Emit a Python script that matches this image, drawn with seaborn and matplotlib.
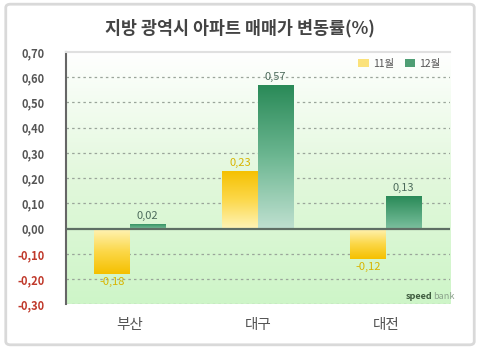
import numpy as np
import pandas as pd
import matplotlib
matplotlib.use("Agg")
import matplotlib.pyplot as plt
import seaborn as sns
from matplotlib.colors import LinearSegmentedColormap
from matplotlib.patches import FancyBboxPatch, Patch

# data
cities = ["부산", "대구", "대전"]
months = ["11월", "12월"]
nov = [-0.18, 0.23, -0.12]
dec = [0.02, 0.57, 0.13]
yticks = [-0.30, -0.20, -0.10, 0.00, 0.10, 0.20, 0.30, 0.40, 0.50, 0.60, 0.70]

df = pd.DataFrame({
    "city": cities * 2,
    "month": [months[0]] * 3 + [months[1]] * 3,
    "value": nov + dec,
})

sns.set_style("white")
plt.rcParams["font.family"] = ["Noto Sans CJK KR", "DejaVu Sans"]

fig = plt.figure(figsize=(4.8, 3.49), dpi=100)
ax = fig.add_axes([0.137, 0.128, 0.80, 0.723])

# outer light frame
fig.patches.append(FancyBboxPatch((0.012, 0.012), 0.976, 0.976, boxstyle="round,pad=0,rounding_size=0.01",
                                  transform=fig.transFigure, fc="white", ec="#d9d9d9", lw=2, zorder=-5))

yel = "#f7c81e"
grn = "#2f8f5e"
sns.barplot(data=df, x="city", y="value", hue="month", palette=[yel, grn],
            width=0.56, gap=0, ax=ax, zorder=3, legend=False)

ax.set_ylim(-0.30, 0.70)
ax.set_xlim(-0.5, 2.5)

# background gradient: white top -> light green bottom
bg = LinearSegmentedColormap.from_list("bg", ["#cef5c8", "#e2f8dc", "#ffffff"])
grad = np.linspace(0, 1, 256).reshape(-1, 1)
ax.imshow(grad, cmap=bg, aspect="auto", extent=[0, 1, 0, 1], transform=ax.transAxes,
          origin="lower", zorder=0)

# gradients on bars
ycm = LinearSegmentedColormap.from_list("y", ["#fff4b8", "#fcd84a", "#f5c000"])
gcm = LinearSegmentedColormap.from_list("g", ["#bfe0d0", "#6db792", "#2a8a58"])
patches = list(ax.patches)
for i, p in enumerate(patches):
    x0, y0 = p.get_x(), p.get_y()
    w, h = p.get_width(), p.get_height()
    cm = ycm if i < 3 else gcm
    lo, hi = min(y0, y0 + h), max(y0, y0 + h)
    g = np.linspace(0, 1, 128).reshape(-1, 1)
    if h < 0:
        g = g[::-1]
    if i >= 3:
        g = np.linspace(0, 1, 128).reshape(-1, 1)
        if hi - lo < 0.2:
            g = 0.4 + 0.6 * g
    im = ax.imshow(g, cmap=cm, vmin=0, vmax=1, aspect="auto", extent=[x0, x0 + w, lo, hi],
                   origin="lower", zorder=3)
    im.set_clip_path(p)
    p.set_edgecolor("none")
    # value label
    val = df["value"].iloc[i]
    txt = f"{val:.2f}".replace(".", ",")
    col = "#d8b400" if i < 3 else "#4d6b5c"
    if val >= 0:
        ax.text(x0 + w / 2, hi + 0.012, txt, ha="center", va="bottom", fontsize=8, color=col, zorder=5)
    else:
        ax.text(x0 + w / 2, lo - 0.012, txt, ha="center", va="top", fontsize=8, color=col, zorder=5)

ax.set_xlim(-0.5, 2.5)
ax.set_ylim(-0.30, 0.70)

# grid and zero line
for t in yticks:
    if t != 0 and t != 0.70:
        ax.axhline(t, color="#9aa59a", lw=0.9, ls=(0, (2, 2.5)), zorder=1)
ax.axhline(0, color="#5e6e64", lw=1.6, zorder=4)

ax.set_yticks(yticks)
ax.set_yticklabels([f"{t:.2f}".replace(".", ",") for t in yticks], fontsize=8)
for lab, t in zip(ax.get_yticklabels(), yticks):
    lab.set_color("#c0392b" if t < 0 else "#555555")
    lab.set_fontweight("bold")
ax.tick_params(axis="y", length=0, pad=15)
ax.tick_params(axis="x", length=0, pad=10, labelsize=10.5, labelcolor="#555555")
ax.set_xlabel("")
ax.set_ylabel("")

for s in ["right", "bottom"]:
    ax.spines[s].set_visible(False)
ax.spines["top"].set_color("#e0e0e0")
ax.spines["top"].set_linewidth(1.5)
ax.spines["left"].set_color("#666666")
ax.spines["left"].set_linewidth(1.5)

handles = [Patch(facecolor="#fbe27a", edgecolor="none"), Patch(facecolor="#4e9e74", edgecolor="none")]
ax.legend(handles, months, loc="upper right", ncol=2, frameon=False, fontsize=7.5,
          handlelength=1.0, handleheight=0.8, columnspacing=1.0, handletextpad=0.4,
          labelcolor="#555555", bbox_to_anchor=(1.0, 1.01))

ax.text(0.955, 0.015, "speed", transform=ax.transAxes, ha="right", va="bottom",
        fontsize=6.5, fontweight="bold", color="#3d5a3d", zorder=6)
ax.text(0.957, 0.015, "bank", transform=ax.transAxes, ha="left", va="bottom",
        fontsize=6.5, color="#8aa08a", zorder=6)

fig.text(0.5, 0.92, "지방 광역시 아파트 매매가 변동률(%)", ha="center", va="center",
         fontsize=12.5, fontweight="bold", color="#444444")

fig.savefig("out.png", dpi=100)
